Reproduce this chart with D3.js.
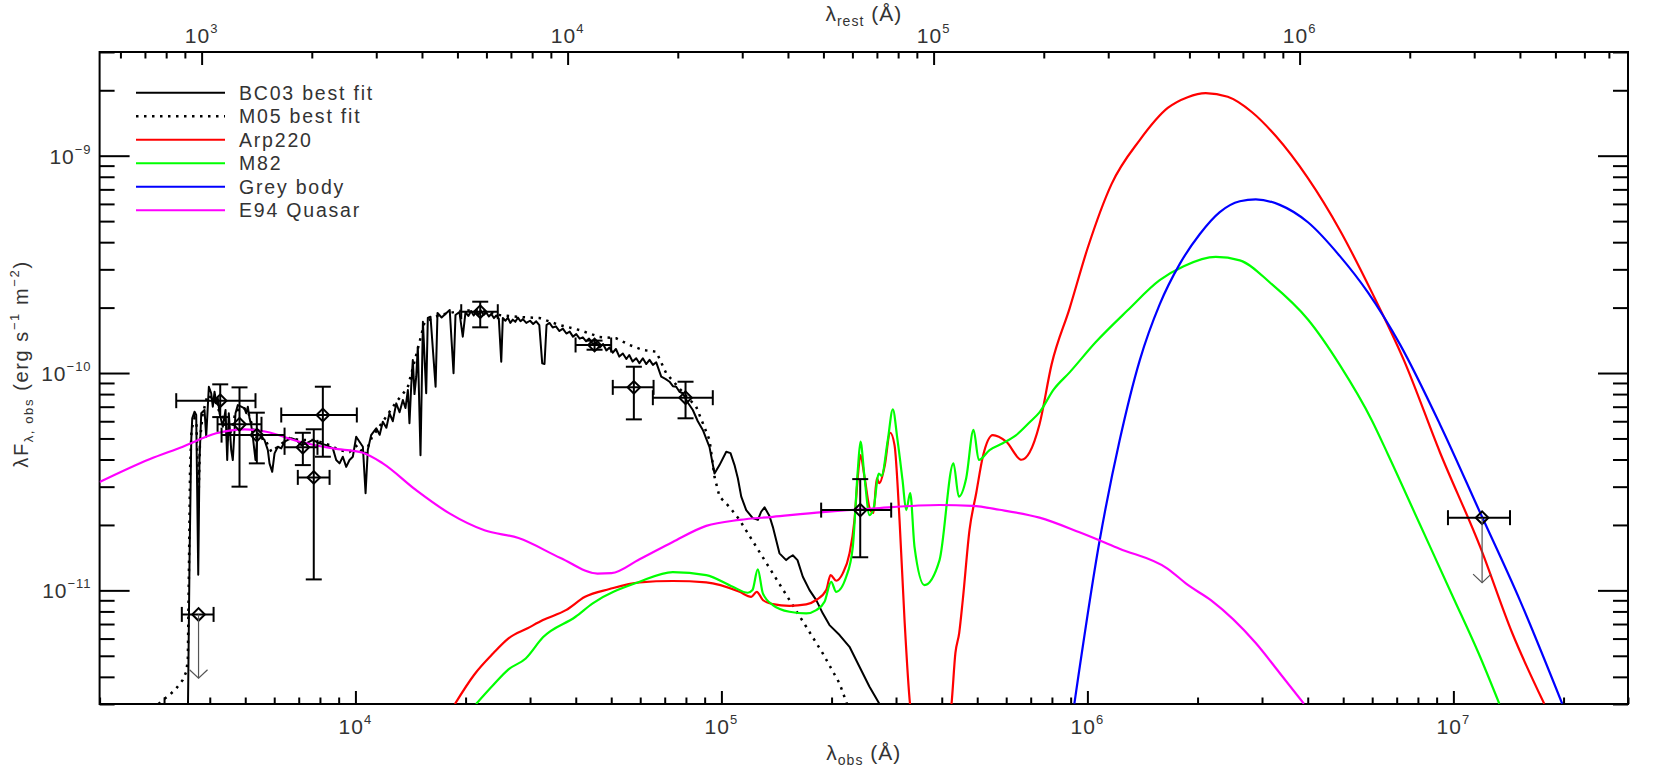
<!DOCTYPE html>
<html>
<head>
<meta charset="utf-8">
<script src="https://cdn.jsdelivr.net/npm/d3@7"></script>
<style>
  body { margin: 0; background: #fff; }
  text { font-family: "Liberation Sans", Arial, sans-serif; fill: #333; }
</style>
</head>
<body>
<div id="sed"></div>
<script>
// observed wavelength (A), lambda*F_lambda (erg s^-1 m^-2)
var bc03 = [[3488,3.0e-12],[3522,1.38e-11],[3560,4.92e-11],[3582,6.19e-11],[3635,6.64e-11],[3673,6.41e-11],[3720,1.18e-11],[3750,3.98e-11],[3791,6.53e-11],[3870,6.76e-11],[3911,5.09e-11],[3977,8.65e-11],[4036,8.07e-11],[4077,7.00e-11],[4121,8.20e-11],[4166,7.28e-11],[4207,7.67e-11],[4253,6.53e-11],[4342,5.66e-11],[4417,6.76e-11],[4464,3.98e-11],[4509,6.53e-11],[4578,4.42e-11],[4624,3.98e-11],[4703,6.53e-11],[4772,7.12e-11],[4875,7.00e-11],[4977,6.88e-11],[5030,6.53e-11],[5082,7.00e-11],[5137,6.19e-11],[5192,5.76e-11],[5245,5.09e-11],[5333,3.98e-11],[5411,5.28e-11],[5528,5.09e-11],[5644,4.92e-11],[5764,4.42e-11],[5825,3.84e-11],[5925,3.51e-11],[6012,4.27e-11],[6138,4.58e-11],[6271,4.50e-11],[6403,4.83e-11],[6537,4.92e-11],[6679,5.01e-11],[6893,4.92e-11],[7112,4.66e-11],[7340,4.75e-11],[7650,4.92e-11],[7979,4.75e-11],[8323,4.66e-11],[8676,4.50e-11],[8862,3.98e-11],[9050,3.84e-11],[9239,4.12e-11],[9438,3.70e-11],[9636,3.98e-11],[9838,4.12e-11],[10050,5.09e-11],[10260,4.83e-11],[10480,4.58e-11],[10660,2.80e-11],[10810,4.42e-11],[11040,5.18e-11],[11400,5.57e-11],[11650,5.2e-11],[11880,5.97e-11],[12150,5.6e-11],[12390,6.53e-11],[12650,6.0e-11],[12930,7.25e-11],[13200,6.6e-11],[13480,7.51e-11],[13700,6.9e-11],[13910,8.35e-11],[14050,5.87e-11],[14210,8.81e-11],[14350,1.148e-10],[14500,8.0e-11],[14660,9.62e-11],[14810,1.321e-10],[15060,4.19e-11],[15290,1.722e-10],[15610,8.07e-11],[15770,1.791e-10],[16040,1.816e-10],[16560,8.65e-11],[16760,1.888e-10],[17200,1.80e-10],[17700,1.882e-10],[18100,1.95e-10],[18540,9.97e-11],[18770,1.848e-10],[19240,1.908e-10],[19650,1.469e-10],[19990,1.908e-10],[20350,1.83e-10],[20700,1.93e-10],[21050,1.84e-10],[21380,1.915e-10],[21700,1.86e-10],[22000,1.94e-10],[22400,1.85e-10],[22780,1.90e-10],[23150,1.82e-10],[23500,1.87e-10],[23900,1.79e-10],[24260,1.84e-10],[24650,1.78e-10],[25030,1.127e-10],[25280,1.791e-10],[25700,1.74e-10],[26100,1.80e-10],[26500,1.70e-10],[26920,1.76e-10],[27350,1.72e-10],[27800,1.80e-10],[28250,1.73e-10],[28680,1.77e-10],[29300,1.70e-10],[30000,1.74e-10],[30600,1.68e-10],[31190,1.73e-10],[31800,1.66e-10],[32390,1.108e-10],[32860,1.100e-10],[33280,1.663e-10],[33910,1.70e-10],[34600,1.62e-10],[35300,1.64e-10],[36100,1.56e-10],[36880,1.60e-10],[37700,1.52e-10],[38500,1.55e-10],[39300,1.47e-10],[40120,1.51e-10],[41000,1.44e-10],[41820,1.46e-10],[42700,1.40e-10],[43500,1.44e-10],[44500,1.36e-10],[45490,1.38e-10],[46500,1.31e-10],[47500,1.36e-10],[48500,1.27e-10],[49470,1.31e-10],[50500,1.24e-10],[51500,1.29e-10],[52600,1.19e-10],[53790,1.23e-10],[55000,1.16e-10],[56000,1.21e-10],[57200,1.13e-10],[58510,1.17e-10],[59700,1.11e-10],[61000,1.17e-10],[62300,1.10e-10],[63630,1.15e-10],[65000,1.09e-10],[66370,1.12e-10],[68480,9.62e-11],[70300,9.4e-11],[72150,9.12e-11],[73700,8.7e-11],[75250,8.65e-11],[76800,8.2e-11],[78440,8.07e-11],[81000,7.3e-11],[83540,6.76e-11],[86200,6.0e-11],[88970,5.47e-11],[92800,4.56e-11],[95750,3.45e-11],[98810,3.77e-11],[103100,4.34e-11],[105900,4.28e-11],[108600,3.77e-11],[110900,3.28e-11],[113300,2.70e-11],[116900,2.34e-11],[121800,2.15e-11],[125800,2.11e-11],[128400,2.30e-11],[131200,2.41e-11],[135300,2.20e-11],[138200,1.96e-11],[144100,1.48e-11],[150300,1.378e-11],[153500,1.42e-11],[156700,1.45e-11],[161400,1.378e-11],[166900,1.155e-11],[174100,1.003e-11],[181600,9.02e-12],[189200,7.84e-12],[197400,6.92e-12],[210300,6.23e-12],[223900,5.50e-12],[238400,4.45e-12],[253900,3.60e-12],[270400,3.0e-12]];

var m05 = [[2897,3.0e-12],[2978,3.13e-12],[3105,3.30e-12],[3239,3.54e-12],[3376,3.87e-12],[3449,4.22e-12],[3484,4.78e-12],[3511,1.378e-11],[3533,3.58e-11],[3566,5.47e-11],[3635,6.21e-11],[3680,5.76e-11],[3727,2.60e-11],[3762,4.92e-11],[3822,6.41e-11],[3944,7.92e-11],[4044,7.67e-11],[4148,7.35e-11],[4253,6.61e-11],[4388,6.08e-11],[4472,4.92e-11],[4586,5.47e-11],[4703,6.61e-11],[4884,6.97e-11],[5072,6.76e-11],[5267,5.47e-11],[5401,4.92e-11],[5644,5.02e-11],[5899,4.33e-11],[6202,4.66e-11],[6605,5.02e-11],[7036,4.92e-11],[7731,4.92e-11],[8499,4.66e-11],[9050,4.42e-11],[9636,4.33e-11],[10130,4.66e-11],[10590,4.19e-11],[11070,5.02e-11],[11860,5.95e-11],[12870,7.28e-11],[13880,8.53e-11],[14780,1.276e-10],[15450,1.717e-10],[16980,1.848e-10],[19250,1.929e-10],[21830,1.95e-10],[24760,1.848e-10],[28080,1.81e-10],[31840,1.791e-10],[36120,1.663e-10],[40960,1.577e-10],[46450,1.465e-10],[51600,1.445e-10],[56100,1.346e-10],[61000,1.276e-10],[66370,1.253e-10],[70670,9.97e-11],[78300,8.18e-11],[85330,7.0e-11],[92800,4.92e-11],[95750,3.33e-11],[98810,2.70e-11],[105200,2.42e-11],[112100,2.11e-11],[124500,1.587e-11],[138200,1.197e-11],[153500,9.02e-12],[170500,6.80e-12],[189200,5.13e-12],[210300,3.73e-12],[220400,3.0e-12]];

var arp220 = [[18700,3.0e-12],[21090,4.08e-12],[23800,5.13e-12],[26200,6.01e-12],[29540,6.69e-12],[32540,7.30e-12],[37590,8.11e-12],[42410,9.34e-12],[49460,1.014e-11],[59750,1.088e-11],[73640,1.104e-11],[90880,1.088e-11],[112100,9.85e-12],[120600,9.34e-12],[124900,9.85e-12],[129800,9.03e-12],[138200,8.65e-12],[153500,8.49e-12],[170500,8.62e-12],[181600,9.03e-12],[193400,1.003e-11],[198700,1.176e-11],[205900,1.107e-11],[214600,1.197e-11],[223900,1.48e-11],[231000,2.106e-11],[235900,3.33e-11],[239900,4.19e-11],[246000,3.33e-11],[255000,2.34e-11],[260300,2.27e-11],[265800,3.28e-11],[270400,3.11e-11],[279000,3.70e-11],[289200,5.31e-11],[297200,4.66e-11],[306700,2.106e-11],[316500,7.30e-12],[327600,3.0e-12],[372600,1.0e-12],[425300,3.0e-12],[435900,5.15e-12],[446400,6.36e-12],[456600,9.03e-12],[476300,1.894e-11],[496800,2.80e-11],[517900,4.12e-11],[551500,5.18e-11],[600000,4.83e-11],[660700,3.99e-11],[694900,4.31e-11],[739700,5.80e-11],[798400,1.096e-10],[894200,1.985e-10],[1001200,3.75e-10],[1164000,7.40e-10],[1390000,1.18e-9],[1658000,1.658e-9],[1879000,1.859e-9],[2105000,1.94e-9],[2418000,1.866e-9],[2813000,1.589e-9],[3272000,1.231e-9],[4005000,7.88e-10],[4897000,4.54e-10],[5989000,2.35e-10],[7328000,1.144e-10],[9193000,4.31e-11],[11830000,1.589e-11],[14470000,6.38e-12],[17710000,3.01e-12]];

var m82 = [[21360,3.0e-12],[23800,3.67e-12],[26200,4.33e-12],[29200,4.86e-12],[32540,6.08e-12],[39950,7.56e-12],[44500,8.71e-12],[59750,1.095e-11],[73640,1.214e-11],[90880,1.176e-11],[107400,1.039e-11],[118100,9.75e-12],[121600,1.003e-11],[125700,1.249e-11],[129800,9.69e-12],[138200,8.56e-12],[153500,7.97e-12],[170500,7.83e-12],[181600,8.11e-12],[191300,8.86e-12],[199500,1.095e-11],[205900,9.85e-12],[219300,1.155e-11],[228600,1.587e-11],[235900,3.58e-11],[239900,4.83e-11],[246000,3.33e-11],[253900,2.22e-11],[260300,2.37e-11],[269200,3.45e-11],[273800,3.36e-11],[284900,4.92e-11],[294000,6.81e-11],[302800,4.92e-11],[312500,3.22e-11],[319800,2.34e-11],[328000,2.80e-11],[337000,1.587e-11],[358900,1.058e-11],[394500,1.378e-11],[430600,3.84e-11],[445300,2.70e-11],[466500,3.28e-11],[488500,5.47e-11],[505000,3.98e-11],[540200,4.42e-11],[587300,4.75e-11],[636300,5.15e-11],[700000,6.0e-11],[739700,6.59e-11],[808500,8.39e-11],[894200,1.007e-10],[1053000,1.385e-10],[1288000,1.943e-10],[1576000,2.674e-10],[1833000,3.10e-10],[2243000,3.42e-10],[2609000,3.30e-10],[3190000,2.563e-10],[4005000,1.763e-10],[4897000,1.087e-10],[5989000,6.05e-11],[6627000,4.22e-11],[8104000,2.008e-11],[9912000,9.55e-12],[11830000,4.95e-12],[13350000,3.01e-12]];

var greyBody = [[921300,3.01e-12],[1080000,1.695e-11],[1225000,4.90e-11],[1390000,1.144e-10],[1576000,2.07e-10],[1787000,3.17e-10],[2027000,4.35e-10],[2300000,5.50e-10],[2609000,6.17e-10],[2885000,6.30e-10],[3355000,5.94e-10],[4005000,4.94e-10],[4897000,3.45e-10],[5841000,2.35e-10],[7146000,1.355e-10],[9193000,5.80e-11],[11830000,2.28e-11],[15210000,8.97e-12],[19830000,3.01e-12]];

var e94Quasar = [[2000,3.15e-11],[2737,4.01e-11],[3376,4.58e-11],[4166,5.28e-11],[4977,5.51e-11],[5705,5.37e-11],[7036,4.83e-11],[8676,4.50e-11],[10476,4.30e-11],[11880,3.84e-11],[14660,2.89e-11],[18070,2.26e-11],[22520,1.89e-11],[27900,1.74e-11],[36340,1.41e-11],[45860,1.195e-11],[50070,1.20e-11],[59750,1.39e-11],[73640,1.67e-11],[90880,1.98e-11],[112100,2.11e-11],[138200,2.18e-11],[189200,2.29e-11],[259300,2.38e-11],[394500,2.47e-11],[485400,2.45e-11],[575300,2.35e-11],[739700,2.16e-11],[951500,1.85e-11],[1224000,1.555e-11],[1655000,1.26e-11],[1877000,1.062e-11],[2183000,8.97e-12],[2880000,5.74e-12],[3348000,4.18e-12],[3904000,3.01e-12]];

// photometry
var photLam    = [3727, 4272, 4823, 5378, 7184, 8147, 7695, 21930, 45020, 57650, 79800, 239500, 11980000];
var photFlux   = [7.75e-12, 7.46e-11, 5.81e-11, 5.18e-11, 4.55e-11, 6.41e-11, 3.31e-11, 1.915e-10, 1.346e-10, 8.59e-11, 7.70e-11, 2.34e-11, 2.16e-11];
var photLamLo  = [3355, 3239, 4201, 4308, 6403, 6271, 6960, 19460, 39950, 50490, 64970, 187300, 9665000];
var photLamHi  = [4097, 5333, 5538, 6403, 7876, 10090, 8499, 24490, 49980, 65260, 94730, 291000, 14280000];
var photFluxLo = [null, 6.27e-11, 3.00e-11, 3.84e-11, 3.77e-11, 4.12e-11, 1.123e-11, 1.623e-10, 1.28e-10, 6.12e-11, 6.19e-11, 1.42e-11, null];
var photFluxHi = [null, 8.87e-11, 8.59e-11, 6.57e-11, 5.31e-11, 8.65e-11, 5.51e-11, 2.129e-10, 1.41e-10, 1.069e-10, 9.12e-11, 3.25e-11, null];
var photLimitTo = [3.94e-12, null, null, null, null, null, null, null, null, null, null, null, 1.085e-11];

var redshift = 2.8;
var obsMajorTicks = [1e4, 1e5, 1e6, 1e7];
var restMajorTicks = [1e3, 1e4, 1e5, 1e6];
var fluxMajorTicks = [1e-11, 1e-10, 1e-9];

var legendLabels = ["BC03 best fit", "M05 best fit", "Arp220", "M82", "Grey body", "E94 Quasar"];
var legendColors = ["#000", "#000", "#ff0000", "#00ff00", "#0000ff", "#ff00ff"];

var svgWidth = 1661, svgHeight = 774;
var margin = {top: 52, right: 33, bottom: 70, left: 99.6};
var width = svgWidth - margin.left - margin.right;
var height = svgHeight - margin.top - margin.bottom;

var svg = d3.select("#sed").append("svg")
  .attr("width", svgWidth)
  .attr("height", svgHeight);

var chart = svg.append("g")
  .attr("transform", `translate(${margin.left}, ${margin.top})`);

var x = d3.scaleLog().domain([2e3, 3e7]).range([0, width]);
var xRest = d3.scaleLog().domain([2e3 / (1 + redshift), 3e7 / (1 + redshift)]).range([0, width]);
var y = d3.scaleLog().domain([3e-12, 3e-9]).range([height, 0]);

function minorTicks(lo, hi) {
  var out = [];
  for (var e = Math.floor(Math.log10(lo)); e <= Math.ceil(Math.log10(hi)); e++) {
    for (var m = 2; m <= 9; m++) {
      var v = m * Math.pow(10, e);
      if (v >= lo * 0.999 && v <= hi * 1.001) out.push(v);
    }
  }
  return out;
}

chart.append("clipPath").attr("id", "plotclip")
  .append("rect").attr("width", width).attr("height", height);

// ticks, all pointing inward
function tickAxis(axisFn, scale, major, minor, bigLen, smallLen, transform) {
  [[major, bigLen], [minor, smallLen]].forEach(function(p) {
    var g = chart.append("g")
      .attr("transform", transform)
      .call(axisFn(scale).tickValues(p[0]).tickSize(p[1]).tickSizeOuter(0).tickFormat(""));
    g.select(".domain").remove();
    g.selectAll("line").attr("stroke", "#000").attr("stroke-width", 2);
  });
}
tickAxis(d3.axisTop, x, obsMajorTicks, minorTicks(2e3, 3e7), 13, 6.5, `translate(0, ${height})`);
tickAxis(d3.axisBottom, xRest, restMajorTicks, minorTicks(2e3 / 3.8, 3e7 / 3.8), 13, 6.5, "translate(0, 0)");
tickAxis(d3.axisRight, y, fluxMajorTicks, minorTicks(3e-12, 3e-9), 30, 15, "translate(0, 0)");
tickAxis(d3.axisLeft, y, fluxMajorTicks, minorTicks(3e-12, 3e-9), 30, 15, `translate(${width}, 0)`);

chart.append("rect")
  .attr("width", width).attr("height", height)
  .attr("fill", "none").attr("stroke", "#000").attr("stroke-width", 2);

function powLabel(text, v) {
  var ex = Math.round(Math.log10(v));
  text.append("tspan").text("10");
  text.append("tspan").attr("dy", -10).attr("font-size", 13)
    .text(ex < 0 ? "\u2212" + (-ex) : ex);
}

obsMajorTicks.forEach(function(v) {
  var t = chart.append("text").attr("x", x(v)).attr("y", height + 30)
    .attr("text-anchor", "middle").attr("font-size", 21).attr("letter-spacing", 1);
  powLabel(t, v);
});
restMajorTicks.forEach(function(v) {
  var t = chart.append("text").attr("x", xRest(v)).attr("y", -9)
    .attr("text-anchor", "middle").attr("font-size", 21).attr("letter-spacing", 1);
  powLabel(t, v);
});
fluxMajorTicks.forEach(function(v) {
  var t = chart.append("text").attr("x", -8).attr("y", y(v) + 8)
    .attr("text-anchor", "end").attr("font-size", 21).attr("letter-spacing", 1);
  powLabel(t, v);
});

// axis titles
var xt = chart.append("text").attr("x", width / 2).attr("y", height + 56)
  .attr("text-anchor", "middle").attr("font-size", 21).attr("letter-spacing", 1);
xt.append("tspan").text("\u03bb");
xt.append("tspan").attr("dy", 5).attr("font-size", 14).text("obs");
xt.append("tspan").attr("dy", -5).text("  (\u00c5)");

var tt = chart.append("text").attr("x", width / 2).attr("y", -31)
  .attr("text-anchor", "middle").attr("font-size", 21).attr("letter-spacing", 1);
tt.append("tspan").text("\u03bb");
tt.append("tspan").attr("dy", 5).attr("font-size", 14).text("rest");
tt.append("tspan").attr("dy", -5).text("  (\u00c5)");

var yt = chart.append("text")
  .attr("transform", `translate(${-72}, ${height / 2 - 14}) rotate(-90)`)
  .attr("text-anchor", "middle").attr("font-size", 20).attr("letter-spacing", 1.6);
yt.append("tspan").text("\u03bbF");
yt.append("tspan").attr("dy", 5).attr("font-size", 13).text("\u03bb, obs");
yt.append("tspan").attr("dy", -5).text("   (erg s");
yt.append("tspan").attr("dy", -9).attr("font-size", 13).text("\u22121");
yt.append("tspan").attr("dy", 9).text(" m");
yt.append("tspan").attr("dy", -9).attr("font-size", 13).text("\u22122");
yt.append("tspan").attr("dy", 9).text(")");

// model curves
var plot = chart.append("g").attr("clip-path", "url(#plotclip)");
var rawLine = d3.line().x(d => x(d[0])).y(d => y(d[1]));
var smoothLine = d3.line().x(d => x(d[0])).y(d => y(d[1])).curve(d3.curveMonotoneX);

plot.append("path").datum(bc03).attr("d", rawLine)
  .attr("fill", "none").attr("stroke", "#000").attr("stroke-width", 2).attr("stroke-linejoin", "round");
plot.append("path").datum(m05).attr("d", rawLine)
  .attr("fill", "none").attr("stroke", "#000").attr("stroke-width", 2.5)
  .attr("stroke-dasharray", "2.5,5.5");
[[arp220, "#ff0000"], [m82, "#00ff00"], [greyBody, "#0000ff"], [e94Quasar, "#ff00ff"]].forEach(function(s) {
  plot.append("path").datum(s[0]).attr("d", smoothLine)
    .attr("fill", "none").attr("stroke", s[1]).attr("stroke-width", 2.2);
});

// photometric points with error bars and upper limits
var pts = chart.append("g").attr("stroke", "#000").attr("fill", "none").attr("stroke-width", 2);
photLam.forEach(function(lam, i) {
  var px = x(lam), py = y(photFlux[i]);
  var xl = x(photLamLo[i]), xh = x(photLamHi[i]);
  pts.append("line").attr("x1", xl).attr("x2", xh).attr("y1", py).attr("y2", py);
  pts.append("line").attr("x1", xl).attr("x2", xl).attr("y1", py - 7.5).attr("y2", py + 7.5);
  pts.append("line").attr("x1", xh).attr("x2", xh).attr("y1", py - 7.5).attr("y2", py + 7.5);
  if (photFluxLo[i] !== null) {
    var yl = y(photFluxLo[i]), yh = y(photFluxHi[i]);
    pts.append("line").attr("x1", px).attr("x2", px).attr("y1", yl).attr("y2", yh);
    pts.append("line").attr("x1", px - 8).attr("x2", px + 8).attr("y1", yl).attr("y2", yl);
    pts.append("line").attr("x1", px - 8).attr("x2", px + 8).attr("y1", yh).attr("y2", yh);
  }
  if (photLimitTo[i] !== null) {
    var ya = y(photLimitTo[i]);
    var arrow = chart.append("g").attr("stroke", "#555").attr("stroke-width", 1.2).attr("fill", "none");
    arrow.append("line").attr("x1", px).attr("x2", px).attr("y1", py).attr("y2", ya);
    arrow.append("path").attr("d", `M${px - 9},${ya - 8.5}L${px},${ya}L${px + 9},${ya - 8.5}`);
  }
  pts.append("path")
    .attr("d", d3.symbol(d3.symbolSquare, 80)())
    .attr("transform", `translate(${px}, ${py}) rotate(45)`);
});

// legend
var legend = chart.append("g").attr("transform", "translate(36.4, 40.7)");
legendLabels.forEach(function(lbl, i) {
  var row = legend.append("g").attr("transform", `translate(0, ${i * 23.5})`);
  row.append("line").attr("x1", 0).attr("x2", 89).attr("y1", 0).attr("y2", 0)
    .attr("stroke", legendColors[i]).attr("stroke-width", i === 1 ? 2.5 : 2)
    .attr("stroke-dasharray", i === 1 ? "2.5,5.5" : null);
  row.append("text").attr("x", 103).attr("y", 7).attr("font-size", 19.5)
    .attr("letter-spacing", 1.8).text(lbl);
});
</script>
</body>
</html>
